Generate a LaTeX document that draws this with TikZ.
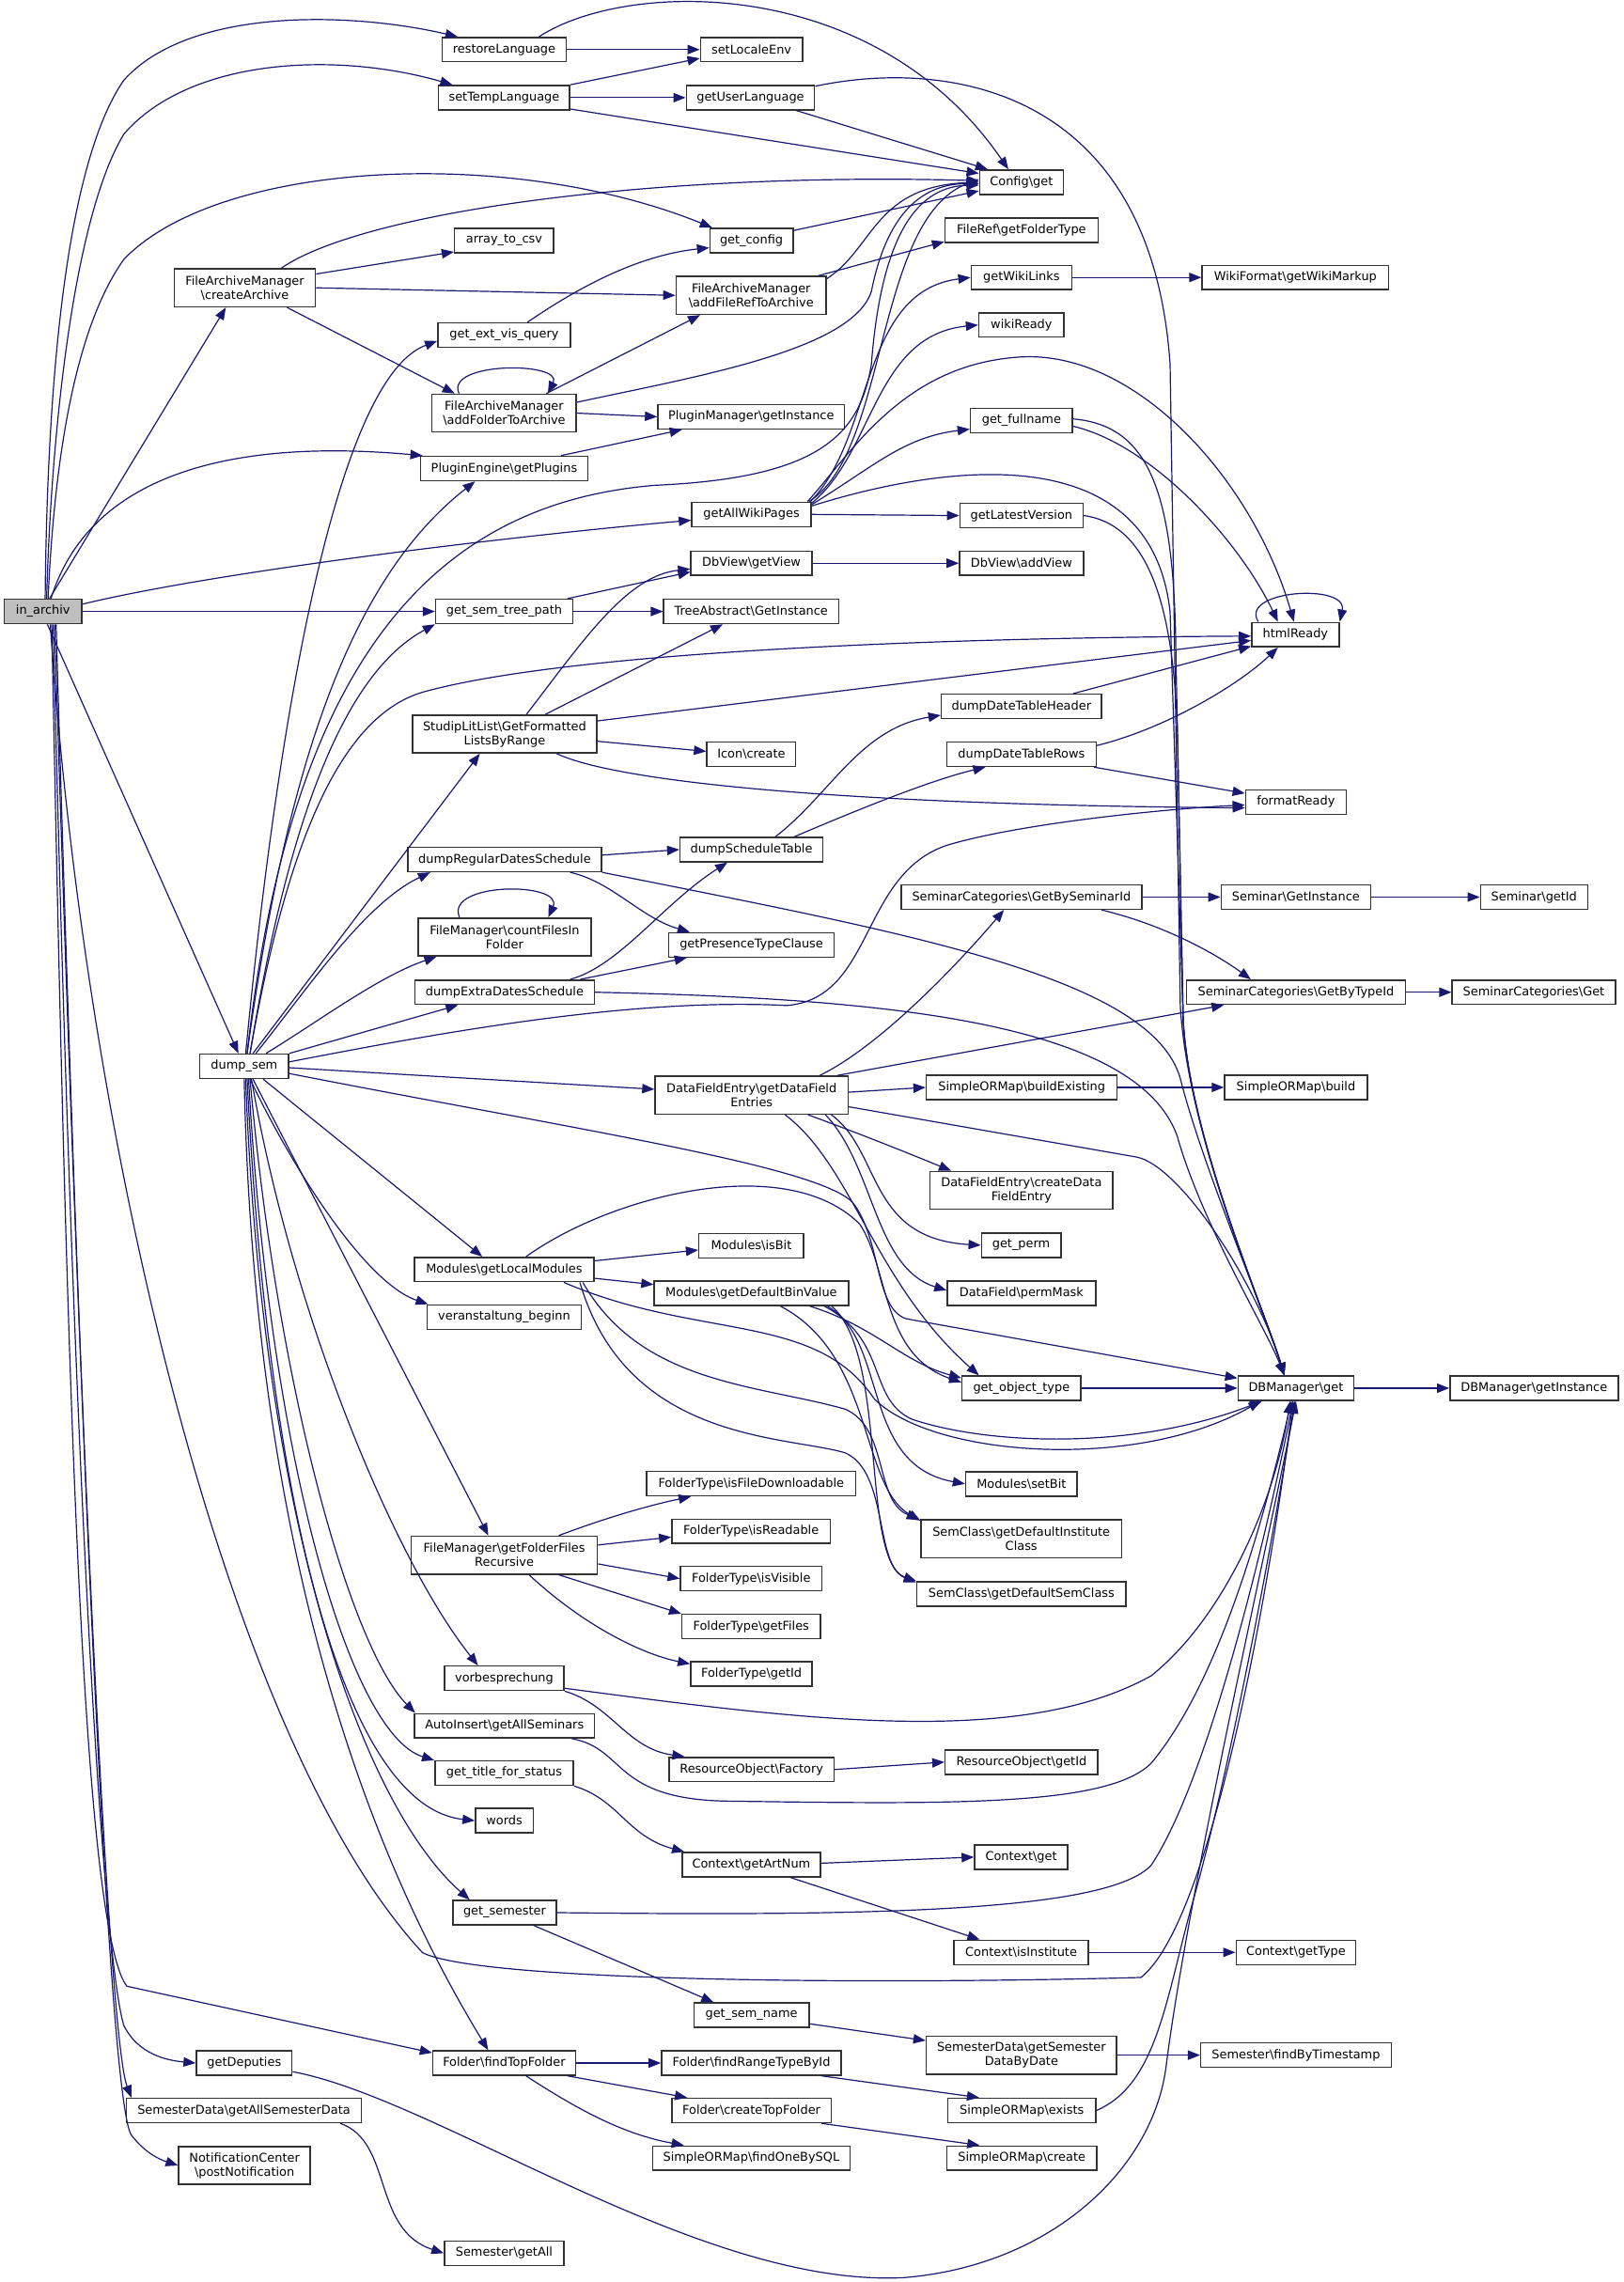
\documentclass[tikz,border=0pt]{standalone}
\usepackage{fontspec}
\setmainfont{DejaVu Sans}
\usepackage{tikz}
\usetikzlibrary{calc,arrows.meta}
\definecolor{edgeblue}{HTML}{191970}
\newcommand\cbs{\textbackslash}

\begin{document}
\begin{tikzpicture}[x=1.55pt,y=-1.55pt,
    box/.style={draw=black!80, line width=1.5pt, fill=white, rectangle, align=center,
      inner xsep=2pt, inner ysep=1pt, minimum height=25.9pt,
      font=\fontsize{12.9pt}{15pt}\selectfont},
    box2/.style={box, minimum height=40.3pt},
    bw/.style={/utils/exec={\pgfmathsetlengthmacro\boxw{#1*1.55pt}}, minimum width=\boxw},
    call/.style={draw=edgeblue, line width=1.2pt, -{Triangle[length=13pt,width=10pt]}}]
    \path[use as bounding box, fill=white] (0,0) rectangle (1114,1566);

    \node[box,bw=53,fill=black!25] (ia) at (29.5,419.6) {in\_archiv};
    \node[box,bw=85] (rl) at (346,34) {restoreLanguage};
    \node[box,bw=70] (sle) at (515.7,34) {setLocaleEnv};
    \node[box,bw=90] (stl) at (346,67) {setTempLanguage};
    \node[box,bw=88] (gul) at (515,67) {getUserLanguage};
    \node[box,bw=57.5] (cfg) at (701,125) {Config\cbs get};
    \node[box,bw=68] (a2c) at (346,165) {array\_to\_csv};
    \node[box,bw=57] (gcf) at (515.7,165) {get\_config};
    \node[box2,bw=97] (cra) at (168,197.5) {FileArchiveManager\\\cbs createArchive};
    \node[box,bw=105] (frft) at (701,158) {FileRef\cbs getFolderType};
    \node[box2,bw=103] (afr) at (515.5,202.7) {FileArchiveManager\\\cbs addFileRefToArchive};
    \node[box,bw=69] (gwl) at (701,190.4) {getWikiLinks};
    \node[box,bw=128] (wgm) at (889,190.4) {WikiFormat\cbs getWikiMarkup};
    \node[box,bw=91] (gev) at (346,230) {get\_ext\_vis\_query};
    \node[box,bw=58.5] (wr) at (701,223) {wikiReady};
    \node[box2,bw=99] (afo) at (346,283.5) {FileArchiveManager\\\cbs addFolderToArchive};
    \node[box,bw=128] (pmi) at (515.5,286) {PluginManager\cbs getInstance};
    \node[box,bw=70] (gfn) at (701,288.5) {get\_fullname};
    \node[box,bw=115] (peg) at (346,321.5) {PluginEngine\cbs getPlugins};
    \node[box,bw=82] (gawp) at (515.7,353) {getAllWikiPages};
    \node[box,bw=84.5] (glv) at (701,353.8) {getLatestVersion};
    \node[box,bw=83] (dvg) at (515.7,386.5) {DbView\cbs getView};
    \node[box,bw=85] (dva) at (701,386.5) {DbView\cbs addView};
    \node[box,bw=94] (gstp) at (346,419.6) {get\_sem\_tree\_path};
    \node[box,bw=120] (tag) at (515.5,419.6) {TreeAbstract\cbs GetInstance};
    \node[box,bw=60] (hr) at (889,435.5) {htmlReady};
    \node[box2,bw=126.6] (sll) at (346.3,503.7) {StudipLitList\cbs GetFormatted\\ListsByRange};
    \node[box,bw=110] (ddth) at (701,484.8) {dumpDateTableHeader};
    \node[box,bw=61] (icc) at (515.6,517.6) {Icon\cbs create};
    \node[box,bw=102.5] (ddtr) at (701,517.6) {dumpDateTableRows};
    \node[box,bw=69] (fr) at (889.3,550.4) {formatReady};
    \node[box,bw=133] (drds) at (346.3,589.8) {dumpRegularDatesSchedule};
    \node[box,bw=98] (dst) at (515.7,583) {dumpScheduleTable};
    \node[box,bw=165] (scbs) at (701,615.6) {SeminarCategories\cbs GetBySeminarId};
    \node[box,bw=102.6] (sgi) at (889.3,615.6) {Seminar\cbs GetInstance};
    \node[box,bw=73.6] (sgid) at (1052.8,615.6) {Seminar\cbs getId};
    \node[box2,bw=118.5] (cff) at (346.3,643) {FileManager\cbs countFilesIn\\Folder};
    \node[box,bw=113.7] (gptc) at (515.7,648.4) {getPresenceTypeClause};
    \node[box,bw=123] (deds) at (346.3,680.9) {dumpExtraDatesSchedule};
    \node[box,bw=150] (scbt) at (889.4,680.9) {SeminarCategories\cbs GetByTypeId};
    \node[box,bw=112] (scg) at (1052.6,680.9) {SeminarCategories\cbs Get};
    \node[box,bw=61] (ds) at (167.6,731.7) {dump\_sem};
    \node[box2,bw=132.4] (dfe) at (515.8,751.5) {DataFieldEntry\cbs getDataField\\Entries};
    \node[box,bw=131] (sbe) at (701.2,746.2) {SimpleORMap\cbs buildExisting};
    \node[box,bw=98] (sb) at (889.4,746.2) {SimpleORMap\cbs build};
    \node[box2,bw=125.5] (dfc) at (701,816.9) {DataFieldEntry\cbs createData\\FieldEntry};
    \node[box,bw=54.5] (gp) at (700.8,854.5) {get\_perm};
    \node[box,bw=72] (mib) at (515.6,854.8) {Modules\cbs isBit};
    \node[box,bw=123] (mglm) at (346,871.2) {Modules\cbs getLocalModules};
    \node[box,bw=101.8] (dfpm) at (701,887.5) {DataField\cbs permMask};
    \node[box,bw=133.3] (mgdb) at (515.6,887.5) {Modules\cbs getDefaultBinValue};
    \node[box,bw=105.6] (vb) at (346,903.8) {veranstaltung\_beginn};
    \node[box,bw=81.5] (got) at (701,952.6) {get\_object\_type};
    \node[box,bw=79.4] (dbg) at (889.4,952.6) {DBManager\cbs get};
    \node[box,bw=115.5] (dbgi) at (1052.8,952.6) {DBManager\cbs getInstance};
    \node[box,bw=76.5] (msb) at (701,1018.3) {Modules\cbs setBit};
    \node[box,bw=143.7] (ftfd) at (515.5,1018.2) {FolderType\cbs isFileDownloadable};
    \node[box2,bw=137.5] (scdi) at (700.9,1056) {SemClass\cbs getDefaultInstitute\\Class};
    \node[box2,bw=127.8] (gffr) at (346.1,1067.2) {FileManager\cbs getFolderFiles\\Recursive};
    \node[box,bw=108.6] (ftr) at (515.4,1050.8) {FolderType\cbs isReadable};
    \node[box,bw=97] (ftv) at (515.5,1083.3) {FolderType\cbs isVisible};
    \node[box,bw=143.6] (scds) at (701,1093.8) {SemClass\cbs getDefaultSemClass};
    \node[box,bw=95] (ftgf) at (515.5,1116.2) {FolderType\cbs getFiles};
    \node[box,bw=83.4] (ftgi) at (515.7,1148.8) {FolderType\cbs getId};
    \node[box,bw=82] (vsp) at (346,1151.7) {vorbesprechung};
    \node[box,bw=123.6] (aigs) at (346.2,1184.3) {AutoInsert\cbs getAllSeminars};
    \node[box,bw=113] (rof) at (515.8,1214.3) {ResourceObject\cbs Factory};
    \node[box,bw=104.7] (rogi) at (701,1209.2) {ResourceObject\cbs getId};
    \node[box,bw=95] (gtfs) at (346,1216.8) {get\_title\_for\_status};
    \node[box,bw=39.6] (wds) at (346.1,1249.4) {words};
    \node[box,bw=95] (cgan) at (515.6,1279.6) {Context\cbs getArtNum};
    \node[box,bw=64] (cxg) at (700.8,1274.4) {Context\cbs get};
    \node[box,bw=71] (gsm) at (346.3,1312.5) {get\_semester};
    \node[box,bw=92] (cxi) at (700.8,1339.8) {Context\cbs isInstitute};
    \node[box,bw=82.2] (cxt) at (889.4,1339.8) {Context\cbs getType};
    \node[box,bw=79] (gsn) at (515.7,1382.8) {get\_sem\_name};
    \node[box2,bw=130.6] (sdgd) at (701,1410.3) {SemesterData\cbs getSemester\\DataByDate};
    \node[box,bw=130.7] (sfbt) at (889.4,1410.3) {Semester\cbs findByTimestamp};
    \node[box,bw=98] (ftf) at (346,1415.7) {Folder\cbs findTopFolder};
    \node[box,bw=123.3] (frtb) at (515.7,1415.7) {Folder\cbs findRangeTypeById};
    \node[box,bw=65.6] (gdp) at (167.6,1415.7) {getDeputies};
    \node[box,bw=101.4] (sme) at (701.2,1448.3) {SimpleORMap\cbs exists};
    \node[box,bw=109.3] (ctf) at (515.7,1448.3) {Folder\cbs createTopFolder};
    \node[box,bw=161.5] (gasd) at (167.4,1448.3) {SemesterData\cbs getAllSemesterData};
    \node[box2,bw=90.4] (ncpn) at (167.8,1486) {NotificationCenter\\\cbs postNotification};
    \node[box,bw=135.6] (sfob) at (515.6,1481) {SimpleORMap\cbs findOneBySQL};
    \node[box,bw=103] (smc) at (701.2,1481) {SimpleORMap\cbs create};
    \node[box,bw=82] (sga) at (346,1546.2) {Semester\cbs getAll};

    % in_archiv
    \draw[call] ($(ia.north)+(1.5,0)$) .. controls (32,300) and (40,120) .. (85,55) .. controls (130,5) and (240,8) .. ($(rl.north west)+(11,0)$);
    \draw[call] ($(ia.north)+(2.5,0)$) .. controls (35,300) and (50,150) .. (85,92) .. controls (130,40) and (230,35) .. ($(stl.north west)+(10,0)$);
    \draw[call] ($(ia.north)+(3.5,0)$) .. controls (38,300) and (55,220) .. (85,178) .. controls (150,110) and (350,100) .. ($(gcf.north west)+(2,0)$);
    \draw[call] ($(ia.north)+(4.5,0)$) -- ($(cra.south)+(-13,0)$);
    \draw[call] ($(ia.north)+(5.5,0)$) .. controls (60,330) and (150,300) .. ($(peg.north west)+(2,0)$);
    \draw[call] ($(ia.east)+(0,-5)$) .. controls (150,392) and (350,368) .. ($(gawp.west)+(0,4)$);
    \draw[call] (ia.east) -- (gstp.west);
    \draw[call] ($(ia.south)+(3,0)$) -- ($(ds.north)+(-4,0)$);
    \draw[call] ($(ia.south)+(5,0)$) .. controls (60,800) and (160,1200) .. (290,1340) .. controls (330,1360) and (600,1362) .. (783,1357) .. controls (830,1320) and (870,1100) .. ($(dbg.south)+(-2,0)$);
    \draw[call] ($(ia.south)+(6,0)$) .. controls (45,900) and (55,1320) .. (87,1363) -- ($(ftf.west)+(0,-7)$);
    \draw[call] ($(ia.south)+(7,0)$) .. controls (50,1000) and (70,1340) .. (85,1390) .. controls (95,1410) and (115,1414) .. (gdp.west);
    \draw[call] ($(ia.south)+(8,0)$) .. controls (55,1000) and (75,1400) .. ($(gasd.north west)+(4,0)$);
    \draw[call] ($(ia.south)+(9,0)$) .. controls (55,1000) and (75,1440) .. (90,1465) .. controls (100,1478) and (110,1482) .. (ncpn.west);

    \draw[call] (rl.east) -- (sle.west);
    \draw[call] ($(rl.north east)+(-19,0)$) .. controls (430,-14) and (600,-18) .. ($(cfg.north)+(-9,0)$);
    \draw[call] (stl.north east) -- ($(sle.west)+(0,6)$);
    \draw[call] (stl.east) -- (gul.west);
    \draw[call] ($(stl.south east)+(0,-1)$) -- ($(cfg.west)+(0,-6)$);
    \draw[call] ($(gul.south east)+(-13,0)$) -- ($(cfg.north west)+(6,0)$);
    \draw[call] ($(gul.north east)+(0,1)$) .. controls (650,40) and (790,60) .. (803,250) -- (810,690) .. controls (815,780) and (868,900) .. ($(dbg.north)+(-8,0)$);

    \draw[call] ($(cra.north east)+(0,4)$) -- ($(a2c.south west)+(0,-1)$);
    \draw[call] ($(cra.north)+(25,0)$) .. controls (250,145) and (450,118) .. ($(cfg.west)+(0,-1)$);
    \draw[call] (cra.east) -- (afr.west);
    \draw[call] ($(cra.south east)+(-20,0)$) -- ($(afo.north west)+(16,0)$);
    \draw[call] ($(gcf.north east)+(0,2)$) -- ($(cfg.west)+(0,6)$);
    \draw[call] ($(afr.north east)+(0,2)$) .. controls (600,170) and (600,128) .. (cfg.west);
    \draw[call] ($(afr.north east)+(-6,0)$) -- ($(frft.south west)+(0,-1)$);
    \draw[call] ($(gev.north east)+(-30,0)$) .. controls (400,195) and (440,175) .. ($(gcf.west)+(0,5)$);

    \draw[call] ($(afo.north)+(-31,0)$) .. controls (305,248) and (387,248) .. ($(afo.north)+(30,0)$);
    \draw[call] ($(afo.north east)+(-21,0)$) -- ($(afr.south west)+(17,0)$);
    \draw[call] (afo.east) -- (pmi.west);
    \draw[call] ($(afo.north east)+(0,6)$) .. controls (480,258) and (585,240) .. (598,200) .. controls (608,150) and (630,126) .. ($(cfg.west)+(0,1)$);
    \draw[call] ($(peg.north east)+(-19,0)$) -- ($(pmi.south west)+(17,0)$);

    % getAllWikiPages
    \draw[call] ($(gawp.north east)+(-2,0)$) .. controls (610,310) and (600,150) .. ($(cfg.west)+(0,-2)$);
    \draw[call] ($(gawp.north east)+(-1,0)$) .. controls (600,300) and (590,200) .. (gwl.west);
    \draw[call] ($(gawp.north east)+(0,1)$) .. controls (600,310) and (600,230) .. (wr.west);
    \draw[call] ($(gawp.north east)+(0,2)$) .. controls (600,320) and (620,300) .. ($(gfn.west)+(0,6)$);
    \draw[call] (gawp.east) -- (glv.west);
    \draw[call] ($(gawp.north east)+(-3,0)$) .. controls (585,310) and (620,250) .. (700,245) .. controls (780,240) and (860,330) .. ($(hr.north)+(-1,0)$);
    \draw[call] ($(gawp.north east)+(0,3)$) .. controls (650,318) and (790,300) .. (803,420) -- (812,700) .. controls (816,780) and (868,900) .. ($(dbg.north)+(-8,0)$);
    \draw[call] (gwl.east) -- (wgm.west);
    \draw[call] ($(gfn.east)+(0,-1)$) .. controls (790,292) and (806,340) .. (807,450) -- (812,700) .. controls (816,780) and (868,900) .. ($(dbg.north)+(-8,0)$);
    \draw[call] ($(gfn.east)+(0,4)$) .. controls (790,305) and (850,370) .. ($(hr.north)+(-12,0)$);
    \draw[call] (glv.east) .. controls (790,360) and (805,420) .. (808,500) -- (812,700) .. controls (816,780) and (868,900) .. ($(dbg.north)+(-8,0)$);
    \draw[call] (dvg.east) -- (dva.west);
    \draw[call] ($(gstp.north east)+(-4,0)$) -- ($(dvg.west)+(0,6)$);
    \draw[call] (gstp.east) -- (tag.west);
    \draw[call] ($(hr.north west)+(5,0)$) .. controls (850,405) and (925,400) .. (hr.north east);

    % StudipLitList and schedules
    \draw[call] ($(sll.north)+(15,0)$) .. controls (400,440) and (430,395) .. ($(dvg.west)+(0,4)$);
    \draw[call] ($(sll.north)+(28,0)$) -- ($(tag.south west)+(41,0)$);
    \draw[call] ($(sll.east)+(0,-9)$) -- ($(hr.west)+(0,4)$);
    \draw[call] ($(sll.east)+(0,5)$) -- ($(icc.west)+(0,-2)$);
    \draw[call] ($(sll.south east)+(-28,0)$) .. controls (420,535) and (560,552) .. ($(fr.west)+(0,4)$);
    \draw[call] ($(ddth.north east)+(-20,0)$) -- ($(hr.west)+(0,8)$);
    \draw[call] ($(ddtr.east)+(0,-6)$) .. controls (800,500) and (850,470) .. ($(hr.south)+(-12,0)$);
    \draw[call] ($(ddtr.south east)+(-2,0)$) -- ($(fr.west)+(0,-6)$);
    \draw[call] ($(drds.east)+(0,-3)$) -- (dst.west);
    \draw[call] ($(drds.south east)+(-22,0)$) .. controls (420,605) and (440,630) .. ($(gptc.north west)+(15,0)$);
    \draw[call] (drds.south east) .. controls (620,640) and (790,670) .. (810,740) .. controls (825,800) and (868,900) .. ($(dbg.north)+(-8,0)$);
    \draw[call] ($(dst.north east)+(-33,0)$) .. controls (570,545) and (590,500) .. ($(ddth.west)+(0,6)$);
    \draw[call] ($(dst.north east)+(-20,0)$) .. controls (590,555) and (640,535) .. ($(ddtr.south west)+(27,0)$);
    \draw[call] (scbs.east) -- (sgi.west);
    \draw[call] ($(scbs.south east)+(-28,0)$) .. controls (800,635) and (835,655) .. ($(scbt.north)+(-31,0)$);
    \draw[call] (sgi.east) -- (sgid.west);
    \draw[call] ($(cff.north)+(-31,0)$) .. controls (305,605) and (387,605) .. ($(cff.north)+(30,0)$);
    \draw[call] ($(deds.north east)+(-17,0)$) .. controls (425,663) and (455,620) .. ($(dst.south west)+(33,0)$);
    \draw[call] ($(deds.north east)+(-10,0)$) -- ($(gptc.south west)+(13,0)$);
    \draw[call] (deds.east) .. controls (600,685) and (780,700) .. (808,780) .. controls (825,840) and (868,910) .. ($(dbg.north)+(-8,0)$);
    \draw[call] (scbt.east) -- (scg.west);

    % dump_sem
    \draw[call] ($(ds.north)+(1,0)$) .. controls (190,500) and (230,260) .. ($(gev.west)+(0,4)$);
    \draw[call] ($(ds.north)+(2,0)$) .. controls (200,500) and (250,390) .. ($(peg.south)+(-20,0)$);
    \draw[call] ($(ds.north)+(2,0)$) .. controls (200,450) and (300,345) .. (450,333) .. controls (560,328) and (590,300) .. (598,250) .. controls (605,160) and (630,128) .. ($(cfg.west)+(0,2)$);
    \draw[call] ($(ds.north)+(4,0)$) .. controls (200,550) and (240,460) .. (gstp.south west);
    \draw[call] ($(ds.north)+(4,0)$) .. controls (200,560) and (240,490) .. (290,475) .. controls (380,450) and (600,438) .. ($(hr.west)+(0,1)$);
    \draw[call] ($(ds.north)+(6,0)$) -- ($(sll.south)+(-17,0)$);
    \draw[call] ($(ds.north)+(8,0)$) .. controls (210,680) and (250,620) .. ($(drds.south west)+(16,0)$);
    \draw[call] ($(ds.north east)+(-16,0)$) .. controls (220,700) and (260,670) .. ($(cff.south west)+(13,0)$);
    \draw[call] (ds.north east) -- ($(deds.south west)+(30,0)$);
    \draw[call] ($(ds.east)+(0,-3)$) .. controls (320,705) and (440,685) .. (540,690) .. controls (600,685) and (590,600) .. (650,580) .. controls (700,565) and (800,555) .. ($(fr.west)+(0,2)$);
    \draw[call] ($(ds.east)+(0,1)$) -- ($(dfe.west)+(0,-4)$);
    \draw[call] ($(ds.east)+(0,5)$) .. controls (400,776) and (560,800) .. (585,825) .. controls (605,850) and (600,898) .. (622,905) -- ($(dbg.north west)+(0,2)$);
    \draw[call] ($(ds.south east)+(-18,0)$) -- ($(mglm.north)+(-15,0)$);
    \draw[call] ($(ds.south)+(4,0)$) .. controls (200,800) and (250,880) .. ($(vb.north west)+(1,0)$);
    \draw[call] ($(ds.south)+(6,0)$) -- ($(gffr.north)+(-11,0)$);
    \draw[call] ($(ds.south)+(5,0)$) .. controls (200,900) and (270,1070) .. ($(vsp.north)+(-18,0)$);
    \draw[call] ($(ds.south)+(4,0)$) .. controls (190,950) and (240,1130) .. ($(aigs.north west)+(1,0)$);
    \draw[call] ($(ds.south)+(3,0)$) .. controls (185,1000) and (240,1190) .. (gtfs.north west);
    \draw[call] ($(ds.south)+(2,0)$) .. controls (185,1050) and (240,1240) .. (wds.west);
    \draw[call] ($(ds.south)+(1,0)$) .. controls (180,1050) and (250,1240) .. ($(gsm.north)+(-24,0)$);
    \draw[call] (ds.south) .. controls (175,1100) and (270,1300) .. ($(ftf.north)+(-11,0)$);

    % DataFieldEntry
    \draw[call] ($(dfe.north east)+(-20,0)$) .. controls (600,720) and (650,670) .. ($(scbs.south)+(-12,0)$);
    \draw[call] ($(dfe.north east)+(-8,0)$) -- ($(scbt.south west)+(26,0)$);
    \draw[call] ($(dfe.east)+(0,-2)$) -- (sbe.west);
    \draw[call] ($(dfe.south east)+(-28,0)$) .. controls (590,778) and (620,790) .. ($(dfc.north west)+(15,0)$);
    \draw[call] ($(dfe.south east)+(-12,0)$) .. controls (605,790) and (595,850) .. (gp.west);
    \draw[call] ($(dfe.south east)+(-16,0)$) .. controls (600,800) and (600,870) .. ($(dfpm.west)+(0,-2)$);
    \draw[call] ($(dfe.south)+(23,0)$) .. controls (585,800) and (600,880) .. ($(got.north west)+(12,0)$);
    \draw[call] ($(dfe.east)+(0,8)$) -- (780,794) .. controls (810,800) and (862,880) .. ($(dbg.north)+(-8,0)$);
    \draw[call] (sbe.east) -- (sb.west);

    % Modules
    \draw[call] ($(mglm.east)+(0,-6)$) -- ($(mib.west)+(0,3)$);
    \draw[call] ($(mglm.east)+(0,6)$) -- ($(mgdb.west)+(0,-6)$);
    \draw[call] ($(mglm.north)+(15,0)$) .. controls (420,820) and (540,790) .. (590,840) .. controls (610,870) and (605,930) .. ($(got.west)+(0,-4)$);
    \draw[call] ($(mglm.south east)+(-21,0)$) .. controls (480,920) and (560,900) .. (600,960) .. controls (640,1000) and (780,1010) .. ($(dbg.south west)+(16,0)$);
    \draw[call] ($(mglm.south east)+(-8,0)$) .. controls (440,950) and (520,950) .. (580,967) .. controls (610,980) and (600,1030) .. ($(scdi.north west)+(-1,0)$);
    \draw[call] ($(mglm.south east)+(-10,0)$) .. controls (430,990) and (540,985) .. (580,997) .. controls (610,1010) and (600,1075) .. (scds.north west);
    \draw[call] ($(mgdb.south east)+(-27,0)$) .. controls (600,910) and (620,935) .. ($(got.west)+(0,-7)$);
    \draw[call] ($(mgdb.south east)+(-17,0)$) .. controls (610,920) and (595,960) .. (626,974) .. controls (680,992) and (780,995) .. ($(dbg.south west)+(17,0)$);
    \draw[call] ($(mgdb.south east)+(-15,0)$) .. controls (610,920) and (590,1005) .. (msb.west);
    \draw[call] ($(mgdb.south)+(20,0)$) .. controls (600,930) and (590,1020) .. ($(scdi.north west)+(0,1)$);
    \draw[call] ($(mgdb.south east)+(-12,0)$) .. controls (610,930) and (590,1070) .. ($(scds.north west)+(0,1)$);
    \draw[call] (got.east) -- (dbg.west);
    \draw[call] (dbg.east) -- (dbgi.west);

    % folders and the rest
    \draw[call] ($(gffr.north east)+(-27,0)$) .. controls (420,1040) and (450,1032) .. ($(ftfd.south west)+(31,0)$);
    \draw[call] ($(gffr.east)+(0,-7)$) -- ($(ftr.west)+(0,4)$);
    \draw[call] ($(gffr.east)+(0,6)$) -- (ftv.west);
    \draw[call] ($(gffr.south east)+(-27,0)$) -- (ftgf.north west);
    \draw[call] ($(gffr.south)+(17,0)$) .. controls (400,1115) and (440,1135) .. ($(ftgi.west)+(0,-7)$);
    \draw[call] ($(vsp.south east)+(0,-2)$) .. controls (550,1180) and (700,1200) .. (790,1150) .. controls (840,1110) and (875,1030) .. ($(dbg.south)+(-4,0)$);
    \draw[call] (vsp.south east) .. controls (420,1170) and (430,1200) .. ($(rof.north west)+(11,0)$);
    \draw[call] ($(aigs.south east)+(-16,0)$) .. controls (430,1200) and (420,1235) .. (500,1236) .. controls (650,1238) and (760,1240) .. (790,1210) .. controls (840,1150) and (870,1030) .. ($(dbg.south)+(-3,0)$);
    \draw[call] (rof.east) -- (rogi.west);
    \draw[call] (gtfs.south east) .. controls (425,1235) and (430,1260) .. ($(cgan.north west)+(2,0)$);
    \draw[call] ($(cgan.east)+(0,-1)$) -- (cxg.west);
    \draw[call] ($(cgan.south east)+(-21,0)$) -- ($(cxi.north west)+(18,0)$);
    \draw[call] (gsm.east) .. controls (600,1315) and (760,1312) .. (790,1280) .. controls (830,1220) and (870,1050) .. ($(dbg.south)+(-2,0)$);
    \draw[call] ($(gsm.south)+(20,0)$) -- ($(gsn.north west)+(14,0)$);
    \draw[call] (cxi.east) -- (cxt.west);
    \draw[call] ($(gsn.east)+(0,6)$) -- ($(sdgd.west)+(0,-10)$);
    \draw[call] (sdgd.east) -- (sfbt.west);
    \draw[call] (ftf.east) -- (frtb.west);
    \draw[call] ($(ftf.south east)+(-6,0)$) -- ($(ctf.north west)+(11,0)$);
    \draw[call] ($(ftf.south)+(15,0)$) .. controls (400,1450) and (430,1465) .. ($(sfob.north west)+(22,0)$);
    \draw[call] ($(frtb.south east)+(-14,0)$) -- ($(sme.north west)+(22,0)$);
    \draw[call] ($(ctf.south east)+(-7,0)$) -- ($(smc.north west)+(23,0)$);
    \draw[call] (sme.east) .. controls (795,1430) and (800,1370) .. (820,1300) .. controls (845,1210) and (875,1050) .. ($(dbg.south)+(-1,0)$);
    \draw[call] ($(gdp.east)+(0,6)$) .. controls (300,1440) and (480,1570) .. (620,1563) .. controls (720,1555) and (790,1490) .. (800,1420) .. controls (815,1300) and (870,1060) .. (dbg.south);
    \draw[call] ($(gasd.south east)+(-15,0)$) .. controls (270,1470) and (255,1530) .. (sga.west);
  \end{tikzpicture}
\end{document}
